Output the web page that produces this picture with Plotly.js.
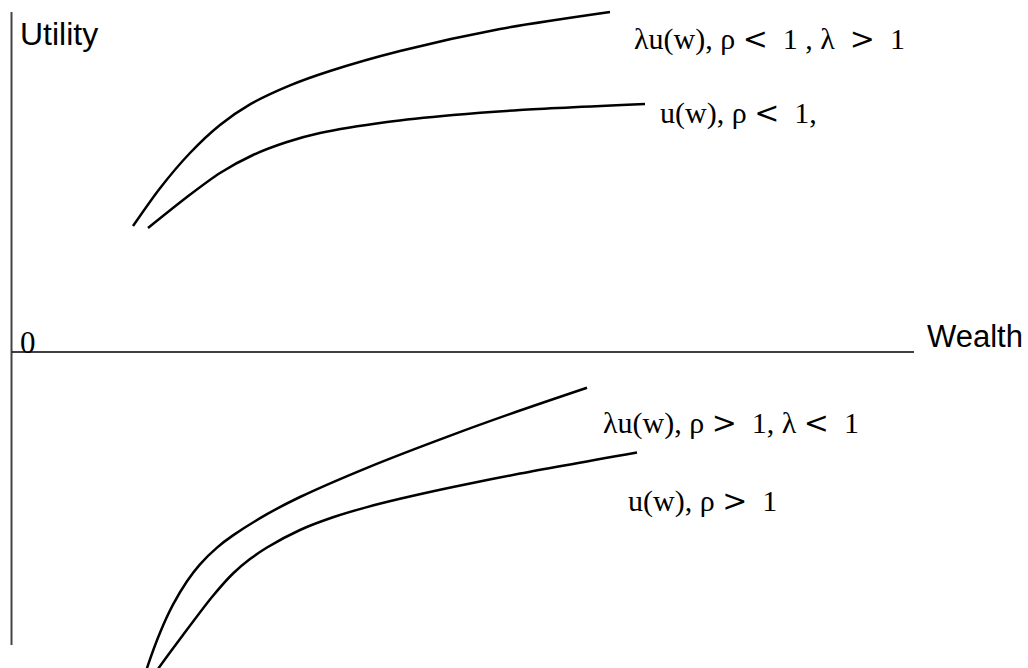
<!DOCTYPE html>
<html>
<head>
<meta charset="utf-8">
<script src="https://cdn.plot.ly/plotly-3.0.1.min.js"></script>
<style>html,body{margin:0;padding:0;background:#fff;}#chart{width:1028px;height:668px;}</style>
</head>
<body>
<div id="chart"></div>
<script>
// Upper panel (rho < 1): lambda*u(w) with lambda > 1, and u(w)
const wealthLamHi = [1.21, 1.48, 1.78, 2.08, 2.38, 2.78, 3.18, 3.88, 4.88, 5.98];
const utilLamHi   = [1.26, 1.638, 1.99, 2.27, 2.476, 2.666, 2.81, 3.01, 3.23, 3.40];
const wealthUHi   = [1.36, 1.75, 2.08, 2.41, 2.75, 3.08, 3.75, 4.41, 5.08, 6.33];
const utilUHi     = [1.24, 1.55, 1.79, 1.97, 2.10, 2.19, 2.30, 2.37, 2.42, 2.48];
// Lower panel (rho > 1): lambda*u(w) with lambda < 1, and u(w)
const wealthLamLo = [1.33, 1.36, 1.48, 1.61, 1.75, 1.88, 2.05, 2.21, 2.55, 2.88, 3.55, 4.41, 5.08, 5.75];
const utilLamLo   = [-3.23, -3.131, -2.807, -2.527, -2.292, -2.123, -1.956, -1.834, -1.622, -1.45, -1.158, -0.826, -0.585, -0.357];
const wealthULo   = [1.43, 1.46, 1.71, 2.00, 2.21, 2.38, 2.55, 2.88, 3.21, 3.55, 3.88, 4.41, 5.08, 6.25];
const utilULo     = [-3.215, -3.17, -2.83, -2.45, -2.215, -2.071, -1.955, -1.78, -1.653, -1.551, -1.468, -1.35, -1.216, -1.005];

const SP = "\u2005";
const LT = '<span style="font-family:DejaVu Serif">&lt;</span>' + SP;
const GT = '<span style="font-family:DejaVu Serif">&gt;</span>' + SP;
const curveLabels = [
  "λu(w), ρ " + LT + " 1 , λ  " + GT + " 1",
  "u(w), ρ " + LT + " 1,",
  "λu(w), ρ " + GT + " 1, λ " + LT + " 1",
  "u(w), ρ " + GT + " 1"
];
const axisLabels = ["Utility", "Wealth", "0"];

const lineStyle = {color: "#000", width: 2.5, shape: "spline", smoothing: 0.8};
const traces = [
  {x: wealthLamHi, y: utilLamHi},
  {x: wealthUHi, y: utilUHi},
  {x: wealthLamLo, y: utilLamLo},
  {x: wealthULo, y: utilULo}
].map(t => Object.assign(t, {type: "scatter", mode: "lines", line: lineStyle, hoverinfo: "skip"}));

const serif = {family: "Liberation Serif, Times New Roman, serif", size: 30, color: "#000"};
const sans = {family: "Liberation Sans, Arial, sans-serif", size: 31, color: "#000"};

const labelPos = [[6.20, 3.135], [6.46, 2.40], [5.89, -0.70], [6.14, -1.48]];
const annotations = curveLabels.map((t, i) => ({
  x: labelPos[i][0], y: labelPos[i][1], xref: "x", yref: "y",
  text: t, showarrow: false, xanchor: "left", yanchor: "middle", font: serif
}));
annotations.push({x: 0.06, y: 3.18, xref: "x", yref: "y", text: axisLabels[0], showarrow: false, xanchor: "left", yanchor: "middle", font: Object.assign({}, sans, {size: 32})});
annotations.push({x: 9.13, y: 0.16, xref: "x", yref: "y", text: axisLabels[1], showarrow: false, xanchor: "left", yanchor: "middle", font: sans});
annotations.push({x: 0.06, y: 0.10, xref: "x", yref: "y", text: axisLabels[2], showarrow: false, xanchor: "left", yanchor: "middle", font: Object.assign({}, serif, {size: 31})});

const layout = {
  width: 1028, height: 668,
  margin: {l: 0, r: 0, t: 0, b: 0},
  paper_bgcolor: "#fff", plot_bgcolor: "#fff",
  showlegend: false,
  xaxis: {range: [-0.12, 10.16], visible: false, fixedrange: true},
  yaxis: {range: [-3.16, 3.52], visible: false, fixedrange: true},
  shapes: [
    {type: "line", xref: "x", yref: "y", x0: -0.005, x1: -0.005, y0: 3.40, y1: -2.93, line: {color: "#444", width: 2}},
    {type: "line", xref: "x", yref: "y", x0: 0, x1: 9.02, y0: 0, y1: 0, line: {color: "#000", width: 1.5}}
  ],
  annotations: annotations
};

Plotly.newPlot("chart", traces, layout, {displayModeBar: false, staticPlot: true});
</script>
</body>
</html>
